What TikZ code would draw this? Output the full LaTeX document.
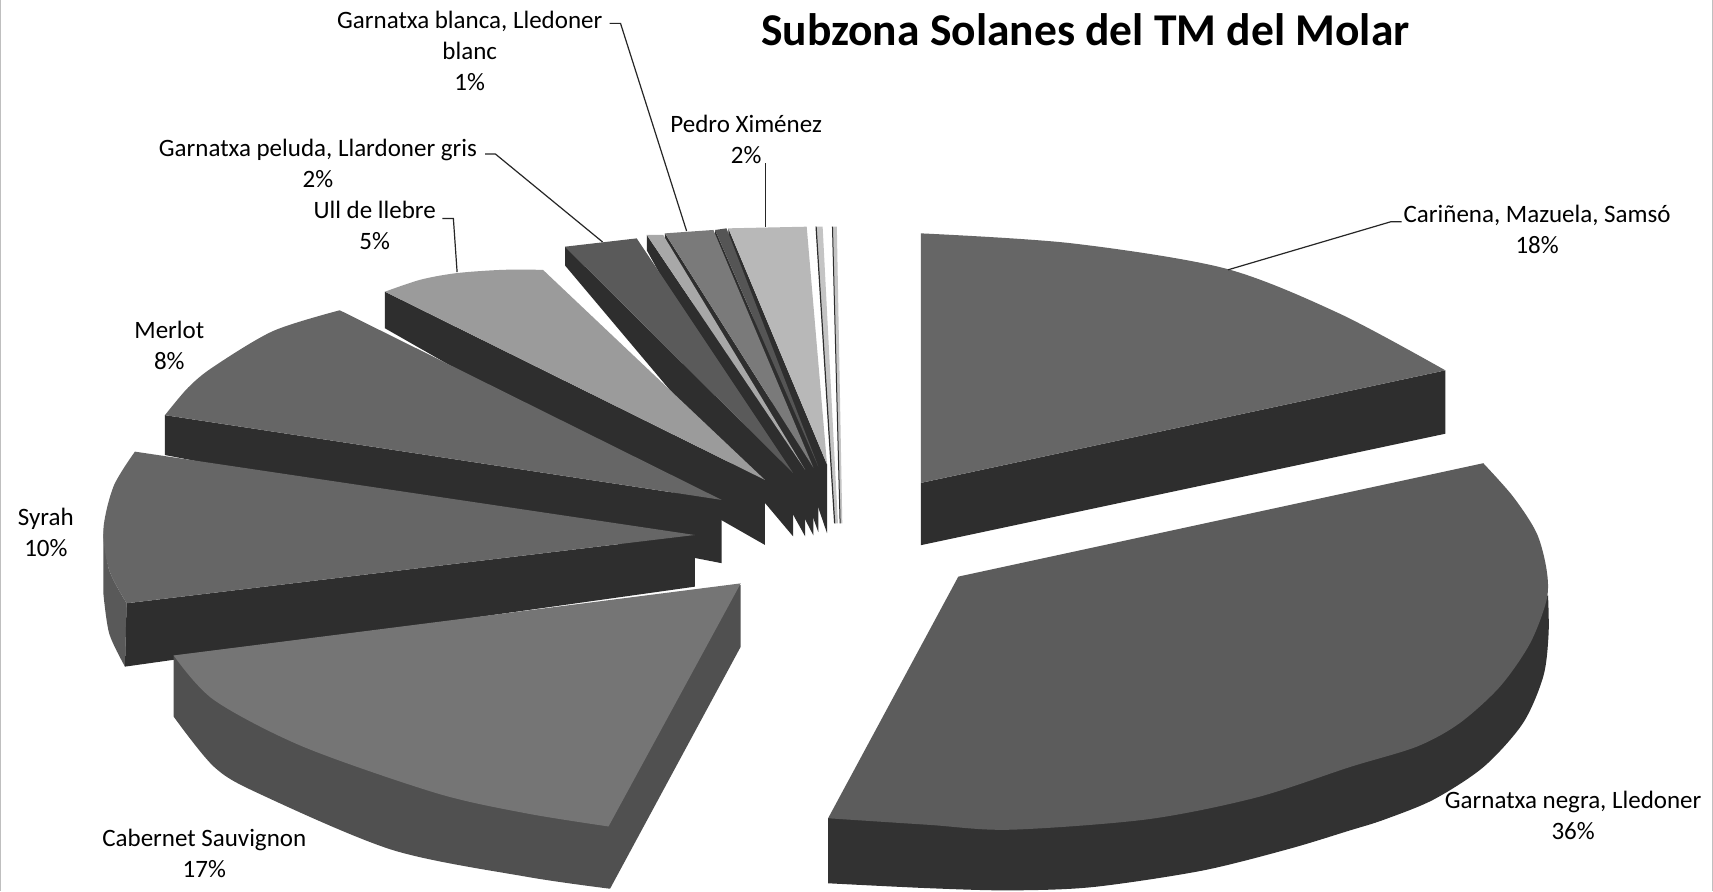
\documentclass[tikz,border=0pt]{standalone}
\usepackage{fontspec}
\setmainfont{Carlito}
\definecolor{topA}{HTML}{666666}
\definecolor{topGN}{HTML}{5C5C5C}
\definecolor{topCab}{HTML}{757575}
\definecolor{sideCab}{HTML}{505050}
\definecolor{sideD}{HTML}{2E2E2E}
\definecolor{sideGN}{HTML}{323232}
\definecolor{sideSyr}{HTML}{595959}
\definecolor{topUL}{HTML}{9B9B9B}
\definecolor{topGP}{HTML}{5A5A5A}
\definecolor{topS1}{HTML}{A8A8A8}
\definecolor{topGB}{HTML}{7A7A7A}
\definecolor{topS2}{HTML}{555555}
\definecolor{topPX}{HTML}{B8B8B8}
\definecolor{sliv}{HTML}{C4C4C4}
\begin{document}
\begin{tikzpicture}[x=1.0925pt,y=-1.0925pt,
  lbl/.style={font=\fontsize{25}{31}\selectfont, align=center, inner sep=0pt},
  ttl/.style={font=\fontsize{45.5}{50}\selectfont\bfseries, inner sep=0pt, anchor=base},
  leader/.style={draw=black!85, line width=1.2pt},
  edgeline/.style={draw=gray!50, line width=1pt}]
\useasboundingbox (0,0) rectangle (1568,816);
\fill[white] (0,0) rectangle (1568,816);
\draw[edgeline] (0.8,0) -- (0.8,816);
\draw[edgeline] (1567.2,0) -- (1567.2,816);

% ---- tiny slivers ----
\fill[sliv] (762,207.5) -- (766,207.5) -- (771,479) -- (769,479) -- cycle;
\draw[sideD, line width=1pt] (762,207.5) -- (769,479);
\fill[sliv] (747,207.5) -- (753,207.5) -- (767,479) -- (764,479) -- cycle;
\draw[sideD, line width=1.2pt] (747,207.5) -- (764,479);

% ---- Pedro Ximenez ----
\fill[sideD] (666.7,209) -- (757,425) -- (757,488) -- (666.7,224) -- cycle;
\fill[topPX] (666.7,209) -- (738.4,207.5) -- (757,425) -- cycle;
% ---- thin dark ----
\fill[sideD] (654.5,210.5) -- (749,427) -- (749,487) -- (654.5,224) -- cycle;
\fill[topS2] (654.5,210.5) -- (665,209) -- (749,427) -- cycle;
% ---- Garnatxa blanca ----
\fill[sideD] (608.7,213.6) -- (744.5,428) -- (744.5,490) -- (608.7,228) -- cycle;
\fill[topGB] (608.7,213.6) -- (653,210.5) -- (744.5,428) -- cycle;
% ---- thin light ----
\fill[sideD] (592,215) -- (737,430) -- (737,491) -- (592,229) -- cycle;
\fill[topS1] (592,215) -- (607,215) -- (737,430) -- cycle;
% ---- Garnatxa peluda ----
\fill[sideD] (517.2,225.8) -- (726,433) -- (726,491) -- (517.2,243) -- cycle;
\fill[topGP] (517.2,225.8) -- (582.8,218.2) -- (726,433) -- cycle;
% ---- Ull de llebre ----
\fill[sideD] (352.4,267) -- (700.2,439.3) -- (700.2,498.8) -- (352.4,300.5) -- cycle;
\fill[topUL] plot[smooth] coordinates {(352.4,267) (385,256) (418,250) (460,247) (497,247)} -- (700.2,439.3) -- cycle;
% ---- Merlot ----
\fill[sideD] (151,380) -- (660.6,457.6) -- (660.6,515.5) -- (151,416.5) -- cycle;
\fill[topA] plot[smooth] coordinates {(151,380) (172,355) (195,336) (250,303) (311,284)} -- (660.6,457.6) -- cycle;
% ---- Syrah ----
\fill[sideSyr] plot[smooth] coordinates {(94.6,485) (100,522) (115.9,552.2)} -- (114.4,610.2) -- plot[smooth] coordinates {(114.4,610.2) (100,580) (94.6,543)} -- cycle;
\fill[sideD] (115.9,552.2) -- (636,489.7) -- (636,537) -- (114.4,610.2) -- cycle;
\fill[topA] plot[smooth] coordinates {(123.5,413.4) (104,445) (94.6,485) (100,522) (115.9,552.2)} -- (636,489.7) -- cycle;
% ---- Cabernet Sauvignon ----
\fill[sideCab] (159,600) -- (159,656) -- plot[smooth] coordinates {(159,656) (195.8,701.8) (236.6,726.2) (359.2,778) (481.8,802.5) (558.4,813.5)} -- (678,592) -- (678,535.5) -- cycle;
\fill[topCab] (159,600) -- (678,534) -- (557,756.5) -- plot[smooth] coordinates {(557,756.5) (481.8,744.5) (400.1,726.2) (277.5,683.5) (195.8,640.7) (159,600)} -- cycle;
% ---- Carinena ----
\fill[sideD] (843,442) -- (1323,339) -- (1323,397) -- (843,499) -- cycle;
\fill[topA] plot[smooth] coordinates {(843,213.6) (980,222.6) (1121,245.6) (1226,287) (1323,339)} -- (843,442) -- cycle;
% ---- Garnatxa negra ----
\fill[sideGN] (758,749) -- plot[smooth] coordinates {(758,808.5) (850,813) (924,815) (1000,812) (1100,797) (1180,777) (1236,760) (1266,750.6) (1312,732) (1358,702) (1394,662) (1412.7,619) (1417.5,580) (1417,545)} -- cycle;
\fill[topGN] (877.2,527.8) -- plot[smooth] coordinates {(1357.7,424) (1385,454.6) (1406.6,488) (1415.7,521.7) (1415.7,549) (1400.5,589) (1373,628.5) (1336,662) (1296.7,683.5) (1236,702) (1150,730) (1050,750) (924,759.5) (850,755) (758,749)} -- cycle;

% ---- title ----
\node[ttl] (title) at (993.5,42) {Subzona Solanes del TM del Molar};

% ---- labels ----
\node[lbl] (car) at (1407,210) {Cariñena, Mazuela, Samsó\\18\%};
\node[lbl] (gn) at (1440,746) {Garnatxa negra, Lledoner\\36\%};
\node[lbl] (cab) at (187,781.5) {Cabernet Sauvignon\\17\%};
\node[lbl] (syr) at (42,487.5) {Syrah\\10\%};
\node[lbl] (mer) at (155,316) {Merlot\\8\%};
\node[lbl] (ul) at (343,206.5) {Ull de llebre\\5\%};
\node[lbl] (gp) at (291,150) {Garnatxa peluda, Llardoner gris\\2\%};
\node[lbl] (gb) at (430,46.5) {Garnatxa blanca, Lledoner\\blanc\\1\%};
\node[lbl] (px) at (683,128) {Pedro Ximénez\\2\%};

% ---- leader lines ----
\coordinate (carA) at (1283,203);
\coordinate (carB) at (1273,203);
\coordinate (carE) at (1124,247);
\draw[leader] (carA) -- (carB) -- (carE);
\coordinate (ulA) at (405,200);
\coordinate (ulB) at (415,200);
\coordinate (ulE) at (418.4,249);
\draw[leader] (ulA) -- (ulB) -- (ulE);
\coordinate (gpA) at (444,141);
\coordinate (gpB) at (453.5,141);
\coordinate (gpE) at (551.6,221.5);
\draw[leader] (gpA) -- (gpB) -- (gpE);
\coordinate (gbA) at (558,21.4);
\coordinate (gbB) at (568,21.4);
\coordinate (gbE) at (628.5,211.5);
\draw[leader] (gbA) -- (gbB) -- (gbE);
\coordinate (pxA) at (701,149.5);
\coordinate (pxE) at (701,208);
\draw[leader] (pxA) -- (pxE);
\end{tikzpicture}
\end{document}
